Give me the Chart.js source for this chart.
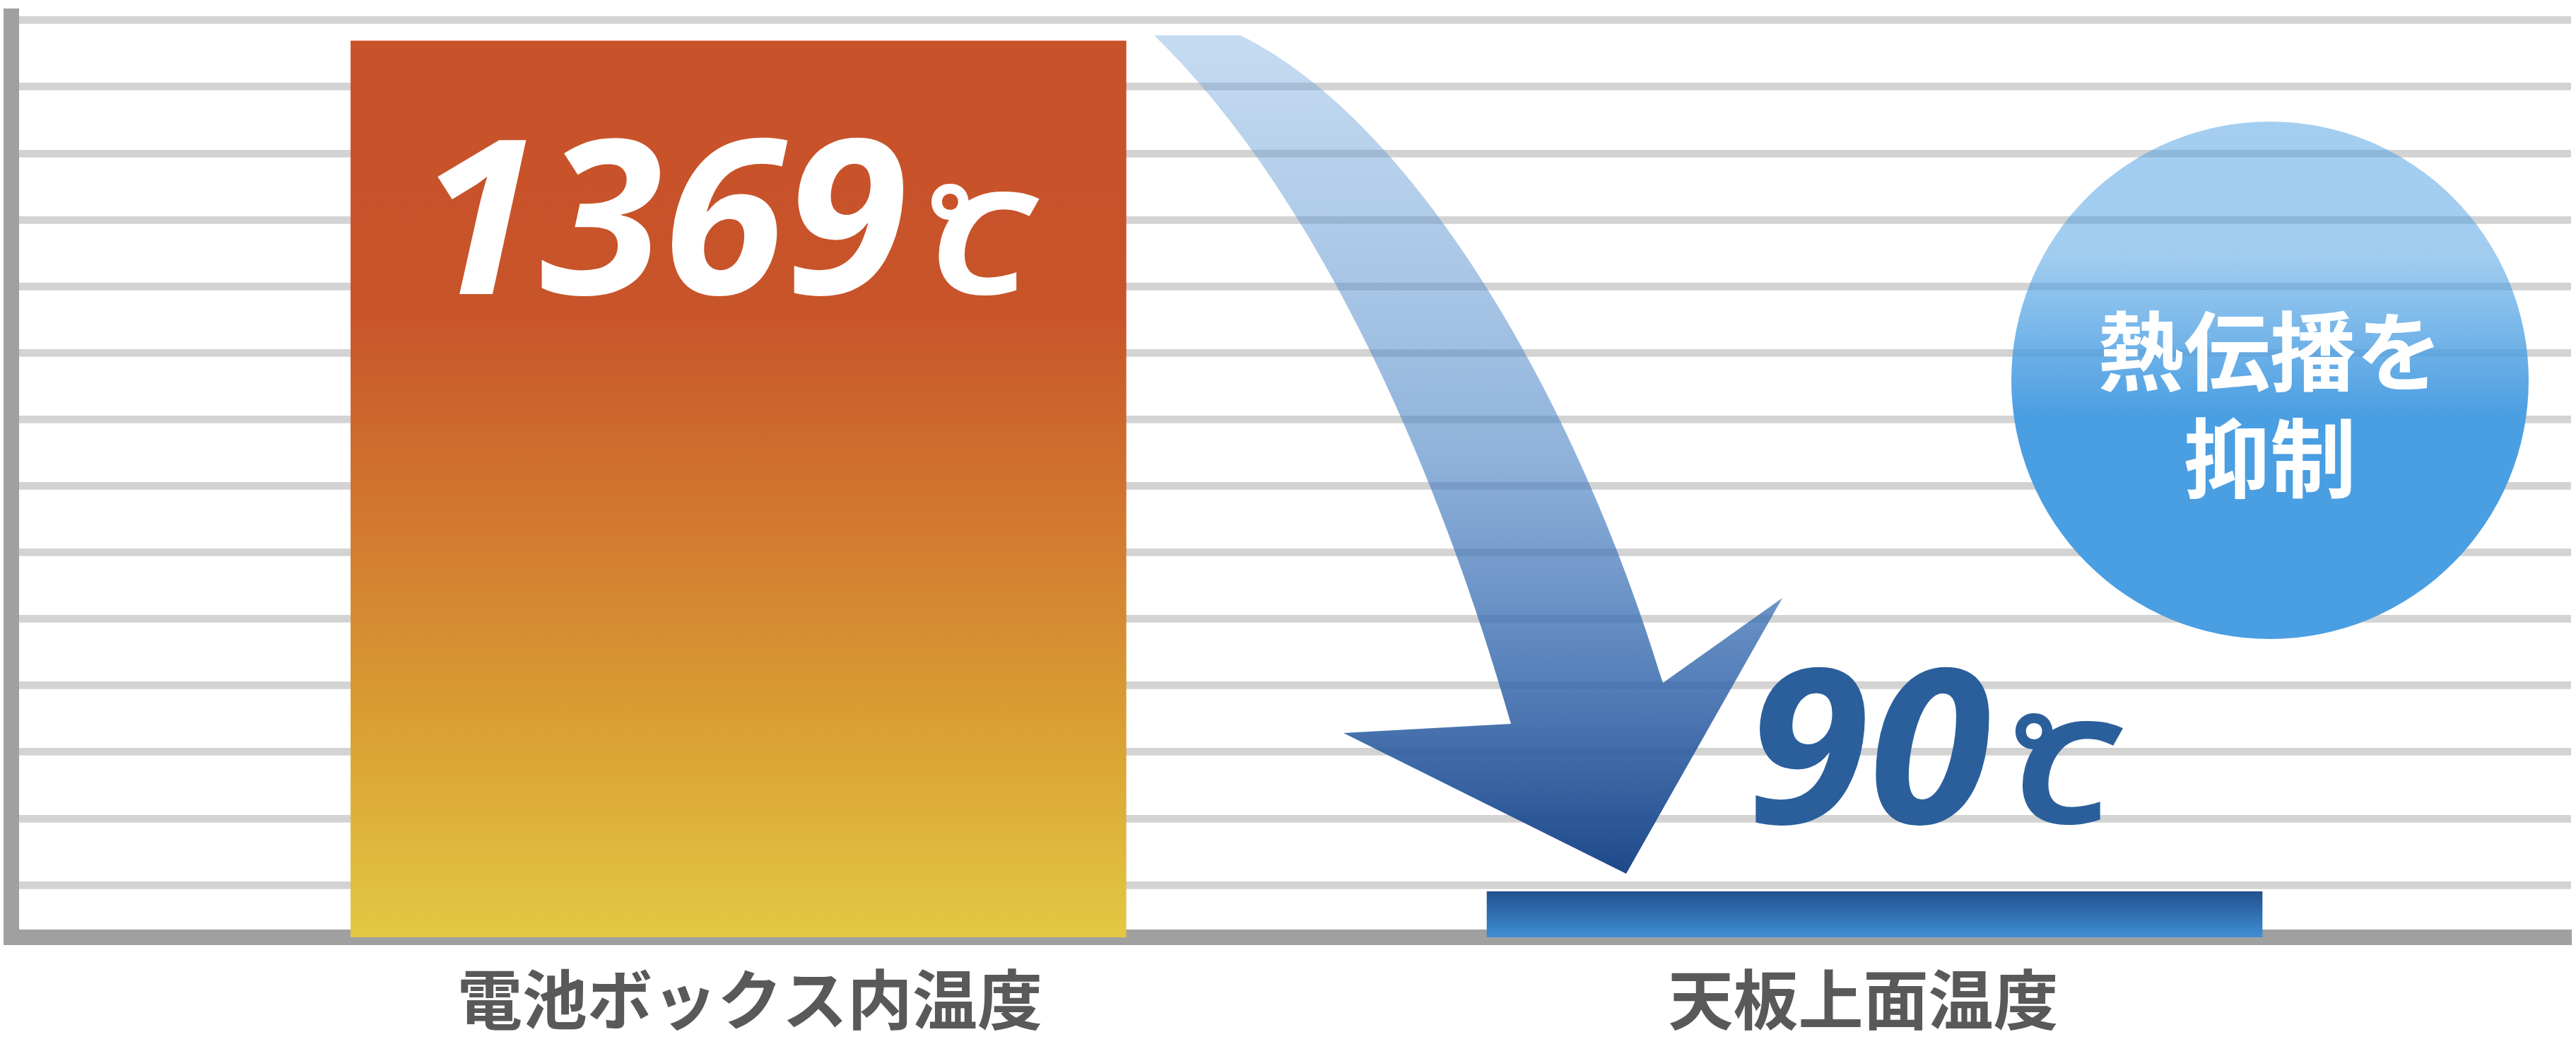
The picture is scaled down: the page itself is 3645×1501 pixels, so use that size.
<!DOCTYPE html>
<html lang="ja">
<head>
<meta charset="utf-8">
<title>温度比較</title>
<script src="https://cdn.jsdelivr.net/npm/chart.js@4.4.1/dist/chart.umd.min.js"></script>
<style>
  html, body { margin: 0; padding: 0; background: #fff; }
  #wrap { width: 3645px; height: 1501px; position: relative; }
</style>
</head>
<body>
<div id="wrap"><canvas id="myChart"></canvas></div>
<script>
const categories = ['電池ボックス内温度', '天板上面温度'];
const temps = [1369, 90];
const unitParts = ['°', 'C']; // ℃
const gridValues = [100, 200, 300, 400, 500, 600, 700, 800, 900, 1000, 1100, 1200, 1300, 1400];
const calloutLines = ['熱伝播を', '抑制'];

// bar fills, top -> bottom
const barStops = [
  [[0, '#c8522a'], [0.3, '#c8542a'], [0.55, '#d27b30'], [0.75, '#d99d33'], [1, '#e3c842']],
  [[0, '#22518f'], [1, '#3f8ed4']]
];

function barFill(context) {
  const chart = context.chart;
  if (!chart.chartArea) return '#c8522a';
  const y = chart.scales.y;
  const top = y.getPixelForValue(temps[context.dataIndex]);
  const bottom = y.getPixelForValue(y.min);
  const g = chart.ctx.createLinearGradient(0, top, 0, bottom);
  barStops[context.dataIndex].forEach(s => g.addColorStop(s[0], s[1]));
  return g;
}

function drawArrow(ctx) {
  ctx.save();
  ctx.beginPath();
  ctx.moveTo(1633, 50);
  ctx.lineTo(1755, 50);
  ctx.bezierCurveTo(2000, 170, 2230, 560, 2353, 966);
  ctx.lineTo(2522, 846);
  ctx.lineTo(2301, 1236);
  ctx.lineTo(1901, 1037);
  ctx.lineTo(2138, 1024);
  ctx.bezierCurveTo(2040, 680, 1870, 280, 1633, 50);
  ctx.closePath();
  const g = ctx.createLinearGradient(0, 50, 0, 1236);
  g.addColorStop(0, 'rgba(110,165,220,0.4)');
  g.addColorStop(0.5, 'rgba(70,128,195,0.6)');
  g.addColorStop(0.77, 'rgba(55,105,172,0.85)');
  g.addColorStop(1, 'rgba(30,72,138,1)');
  ctx.fillStyle = g;
  ctx.fill();
  ctx.restore();
}

function drawCallout(ctx) {
  const cx = 3212, cy = 538, r = 366;
  ctx.save();
  const g = ctx.createLinearGradient(0, cy - r, 0, cy + r);
  g.addColorStop(0, 'rgba(74,158,226,0.5)');
  g.addColorStop(0.26, 'rgba(74,158,226,0.52)');
  g.addColorStop(0.57, 'rgba(74,158,226,1)');
  g.addColorStop(1, 'rgba(74,158,226,1)');
  ctx.beginPath();
  ctx.arc(cx, cy, r, 0, Math.PI * 2);
  ctx.fillStyle = g;
  ctx.fill();
  ctx.fillStyle = '#ffffff';
  ctx.font = 'bold 122px "Noto Sans CJK JP"';
  ctx.textAlign = 'center';
  ctx.textBaseline = 'middle';
  ctx.fillText(calloutLines[0], cx, 497);
  ctx.fillText(calloutLines[1], cx, 648);
  ctx.restore();
}

// big italic value + ℃, anchored by the left edge of the ink
function drawValue(ctx, value, inkLeft, baseline, color) {
  ctx.save();
  ctx.fillStyle = color;
  ctx.textAlign = 'left';
  ctx.textBaseline = 'alphabetic';
  const txt = String(value);
  ctx.font = 'italic 700 305px "Open Sans"';
  const m = ctx.measureText(txt);
  const sx = 1.03;
  ctx.save();
  ctx.translate(inkLeft, baseline);
  ctx.scale(sx, 1);
  ctx.fillText(txt, m.actualBoundingBoxLeft, 0);
  ctx.restore();
  const inkRight = inkLeft + sx * (m.actualBoundingBoxLeft + m.actualBoundingBoxRight);

  ctx.font = 'italic 700 150px "Open Sans"';
  const d = ctx.measureText(unitParts[0]);
  ctx.fillText(unitParts[0], inkRight + 35 + d.actualBoundingBoxLeft, baseline - 156 + d.actualBoundingBoxAscent);

  ctx.font = 'italic 700 200px "Open Sans"';
  const c = ctx.measureText(unitParts[1]);
  ctx.translate(inkRight + 46, baseline);
  ctx.scale(1.2, 1);
  ctx.fillText(unitParts[1], c.actualBoundingBoxLeft, 0);
  ctx.restore();
}

const decorations = {
  id: 'decorations',
  afterDatasetsDraw(chart) {
    const ctx = chart.ctx;
    drawArrow(ctx);
    drawCallout(ctx);
    drawValue(ctx, temps[0], 616, 416, '#ffffff');
    drawValue(ctx, temps[1], 2481, 1165, '#2a5f9b');
  }
};

const ctx = document.getElementById('myChart').getContext('2d');
const myChart = new Chart(ctx, {
  type: 'bar',
  data: {
    datasets: [
      {
        data: temps.map((t, i) => ({ x: i, y: t })),
        backgroundColor: barFill,
        borderWidth: 0,
        barThickness: 1097,
      },
    ],
  },
  options: {
    responsive: true,
    maintainAspectRatio: false,
    animation: false,
    layout: { padding: { top: 23, right: 7, left: 0, bottom: 0 } },
    plugins: {
      legend: { display: false },
      tooltip: { enabled: false },
    },
    scales: {
      x: {
        type: 'linear',
        min: -0.64,
        max: 1.613,
        offset: false,
        z: 1,
        // category names sit slightly inward of the bar centres
        afterBuildTicks: s => { s.ticks = categories.map((c, i) => ({ value: i + (i ? -0.01 : 0.01) })); },
        afterFit: s => { s.height = 175; },
        grid: { display: false, drawTicks: false, offset: false },
        border: { color: '#a0a0a0', width: 22 },
        ticks: {
          callback: (v, i) => categories[i],
          color: '#595959',
          font: { family: '"Noto Sans CJK JP"', size: 92, weight: 'bold' },
          padding: 33,
          maxRotation: 0,
          autoSkip: false,
        },
      },
      y: {
        min: 21.4,
        max: 1406.1,
        afterBuildTicks: s => { s.ticks = gridValues.map(v => ({ value: v })); },
        afterFit: s => { s.width = 16; },
        grid: { color: '#d3d3d3', lineWidth: 10.7, drawTicks: false },
        border: { color: '#a0a0a0', width: 22 },
        ticks: { display: false },
      },
    },
  },
  plugins: [decorations],
});
</script>
</body>
</html>
